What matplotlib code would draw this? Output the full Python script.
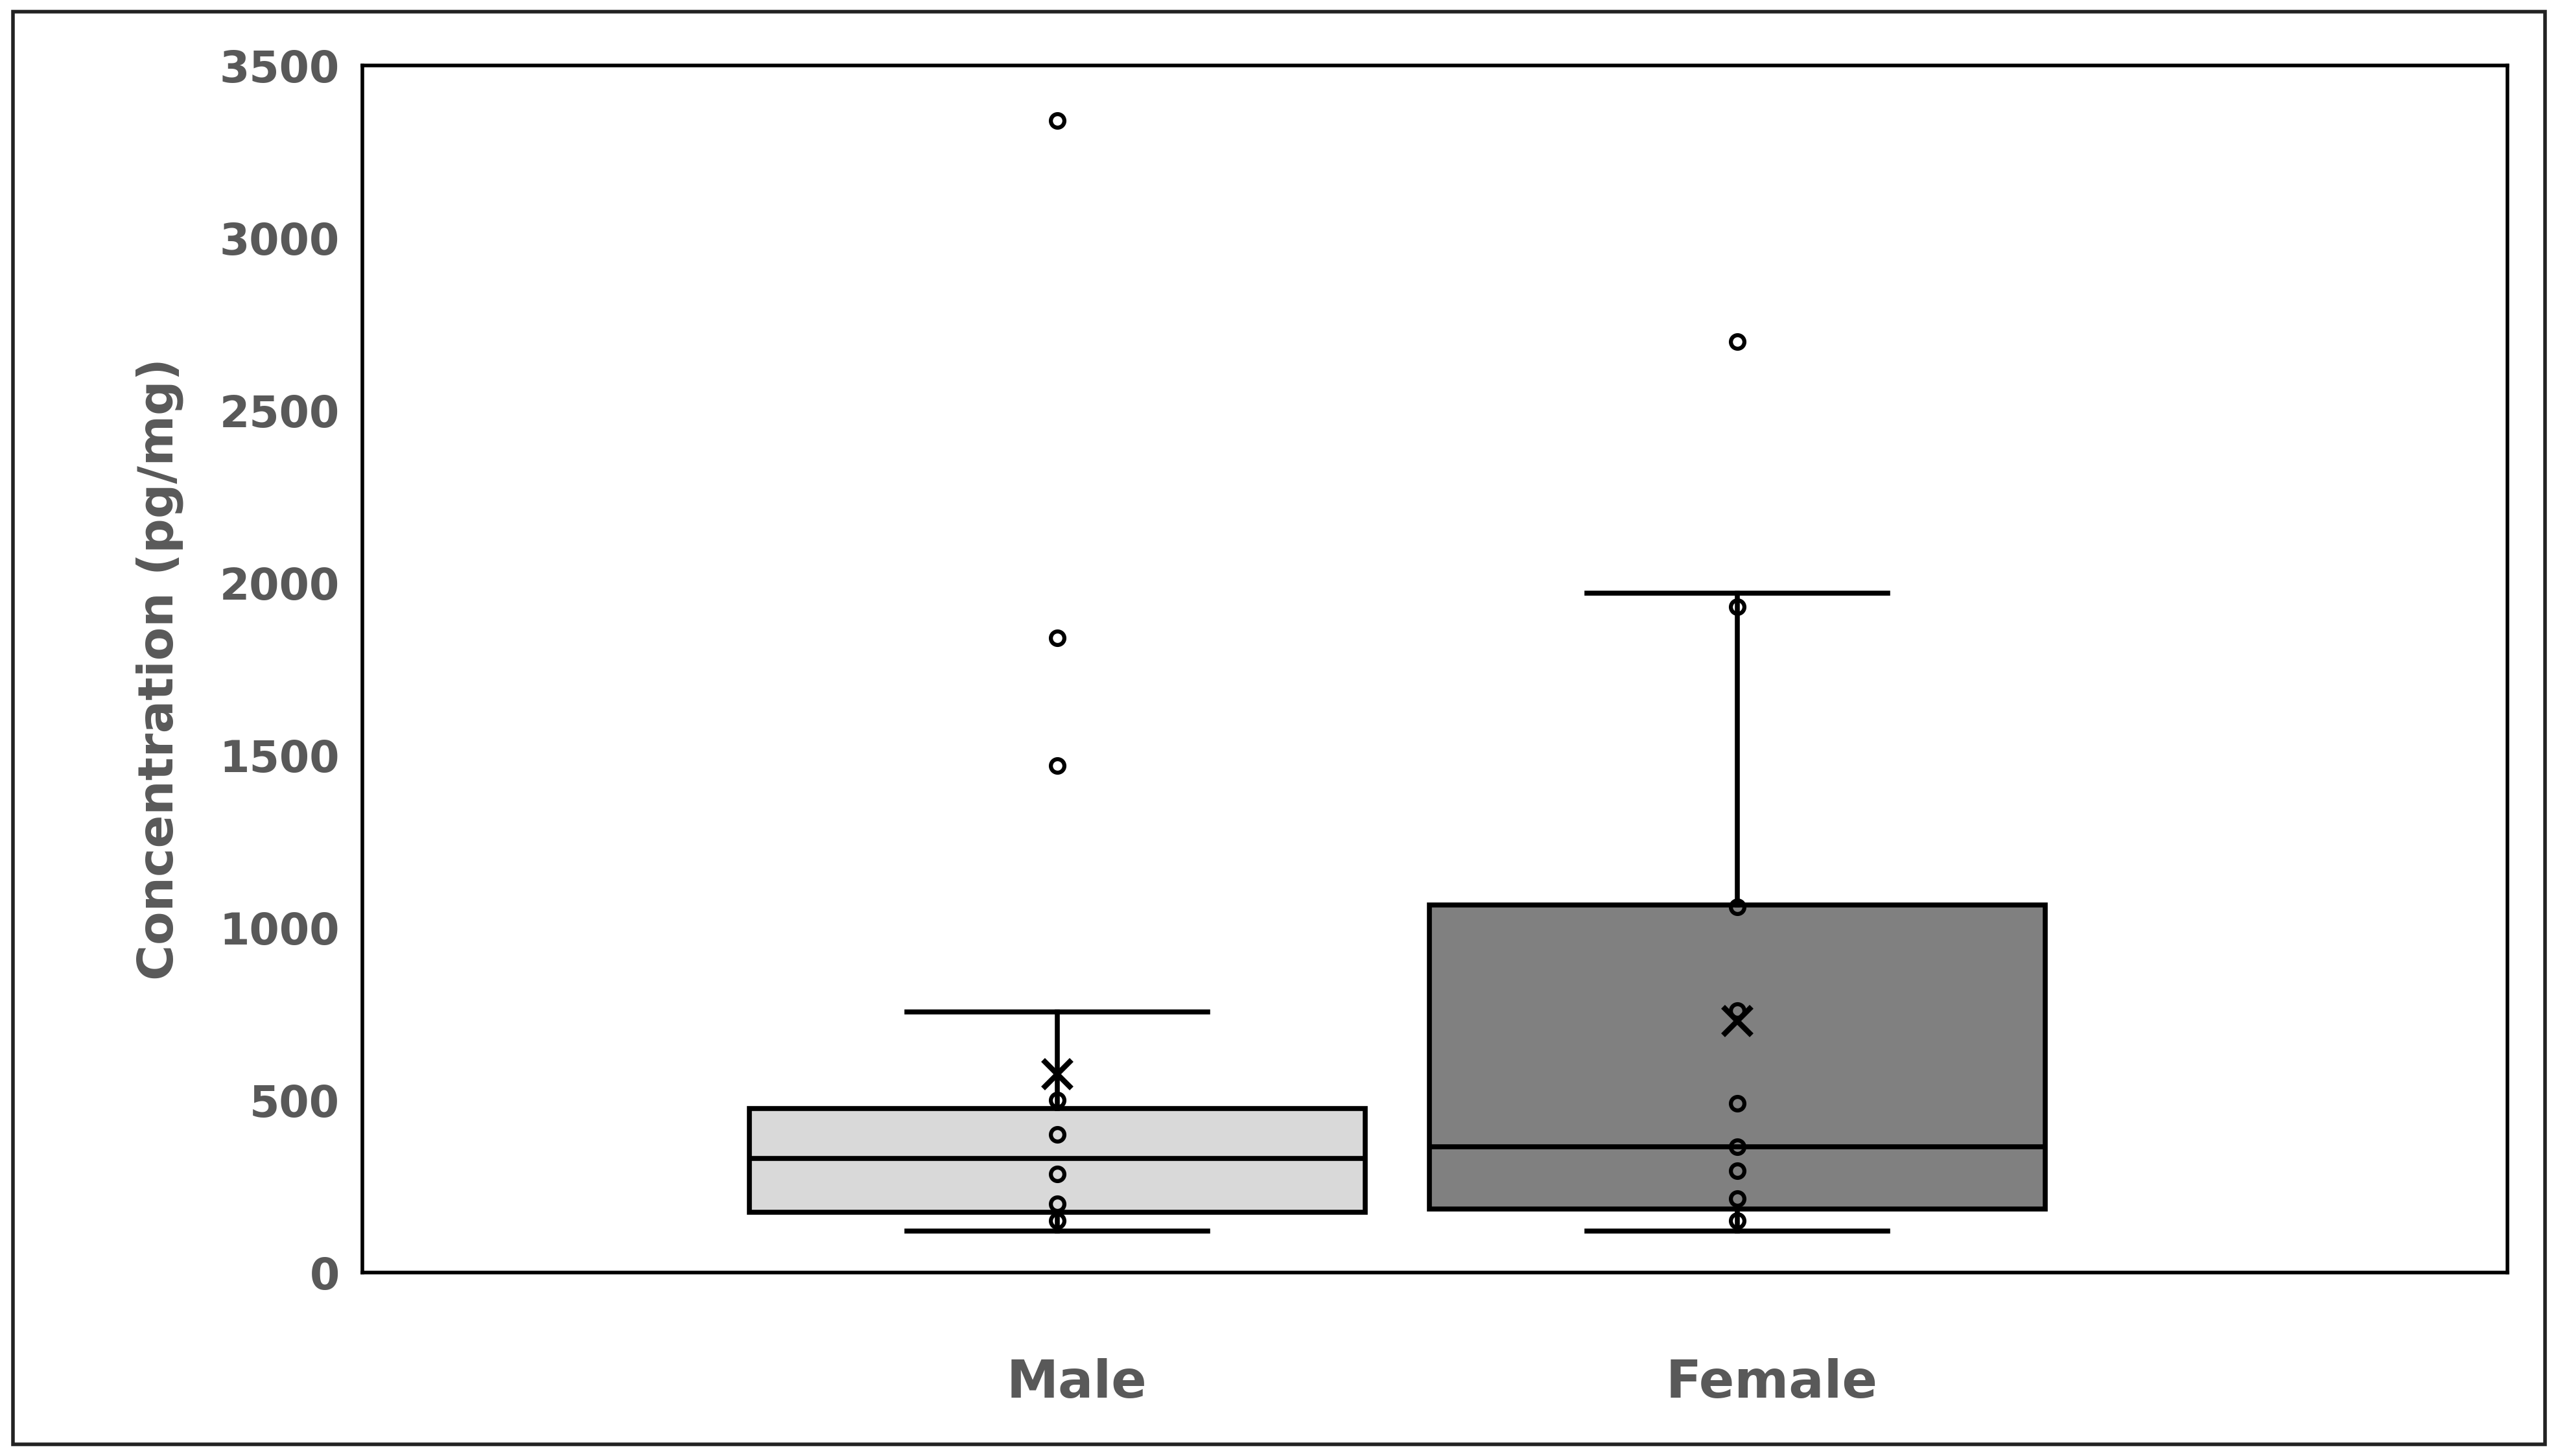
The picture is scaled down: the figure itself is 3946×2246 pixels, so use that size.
import matplotlib.pyplot as plt
from matplotlib.patches import Rectangle

groups = ["Male", "Female"]
whislo = [120, 120]
q1 = [175, 185]
med = [330, 365]
q3 = [475, 1065]
whishi = [755, 1970]
means = [575, 730]
points = [
    [3340, 1840, 1470, 500, 400, 285, 200, 150],
    [2700, 1930, 1060, 760, 490, 365, 295, 215, 150],
]
fills = ["#d9d9d9", "#808080"]

pos = [0.324, 0.641]
label_pos = [0.333, 0.657]

fig = plt.figure(figsize=(39.46, 22.46), dpi=100)
fig.patches.append(Rectangle((0.005, 0.008), 0.99, 0.984, transform=fig.transFigure,
                             fill=False, edgecolor="#222222", linewidth=4))
ax = fig.add_axes([0.1416, 0.126, 0.8387, 0.829])

stats = [dict(whislo=whislo[i], q1=q1[i], med=med[i], q3=q3[i], whishi=whishi[i],
              fliers=[], label=groups[i]) for i in range(2)]
bp = ax.bxp(stats, positions=pos, widths=0.287, patch_artist=True, showfliers=False,
            boxprops=dict(linewidth=5.5, edgecolor="black"),
            medianprops=dict(color="black", linewidth=5.5),
            whiskerprops=dict(linewidth=5.5, color="black"),
            capprops=dict(linewidth=5.5, color="black"), capwidths=0.14)
for b, c in zip(bp["boxes"], fills):
    b.set_facecolor(c)

for i in range(2):
    ax.plot([pos[i]] * len(points[i]), points[i], "o", ms=15, mfc="none",
            mec="black", mew=4.5, zorder=5)
    ax.plot(pos[i], means[i], "x", ms=32, mec="black", mew=6, zorder=6)

ax.set_xlim(0, 1)
ax.set_ylim(0, 3500)
ax.set_yticks(range(0, 3501, 500))
ax.set_xticks(label_pos)
ax.set_xticklabels(groups)
for s in ax.spines.values():
    s.set_linewidth(4)
ax.tick_params(axis="y", length=0, labelsize=48, labelcolor="#595959", pad=25)
ax.tick_params(axis="x", length=0, labelsize=58, labelcolor="#595959", pad=95)
for t in ax.get_yticklabels() + ax.get_xticklabels():
    t.set_fontweight("bold")
ax.set_ylabel("Concentration (pg/mg)", fontsize=54, fontweight="bold",
              color="#595959", labelpad=40)

fig.savefig("out.png", dpi=100)
